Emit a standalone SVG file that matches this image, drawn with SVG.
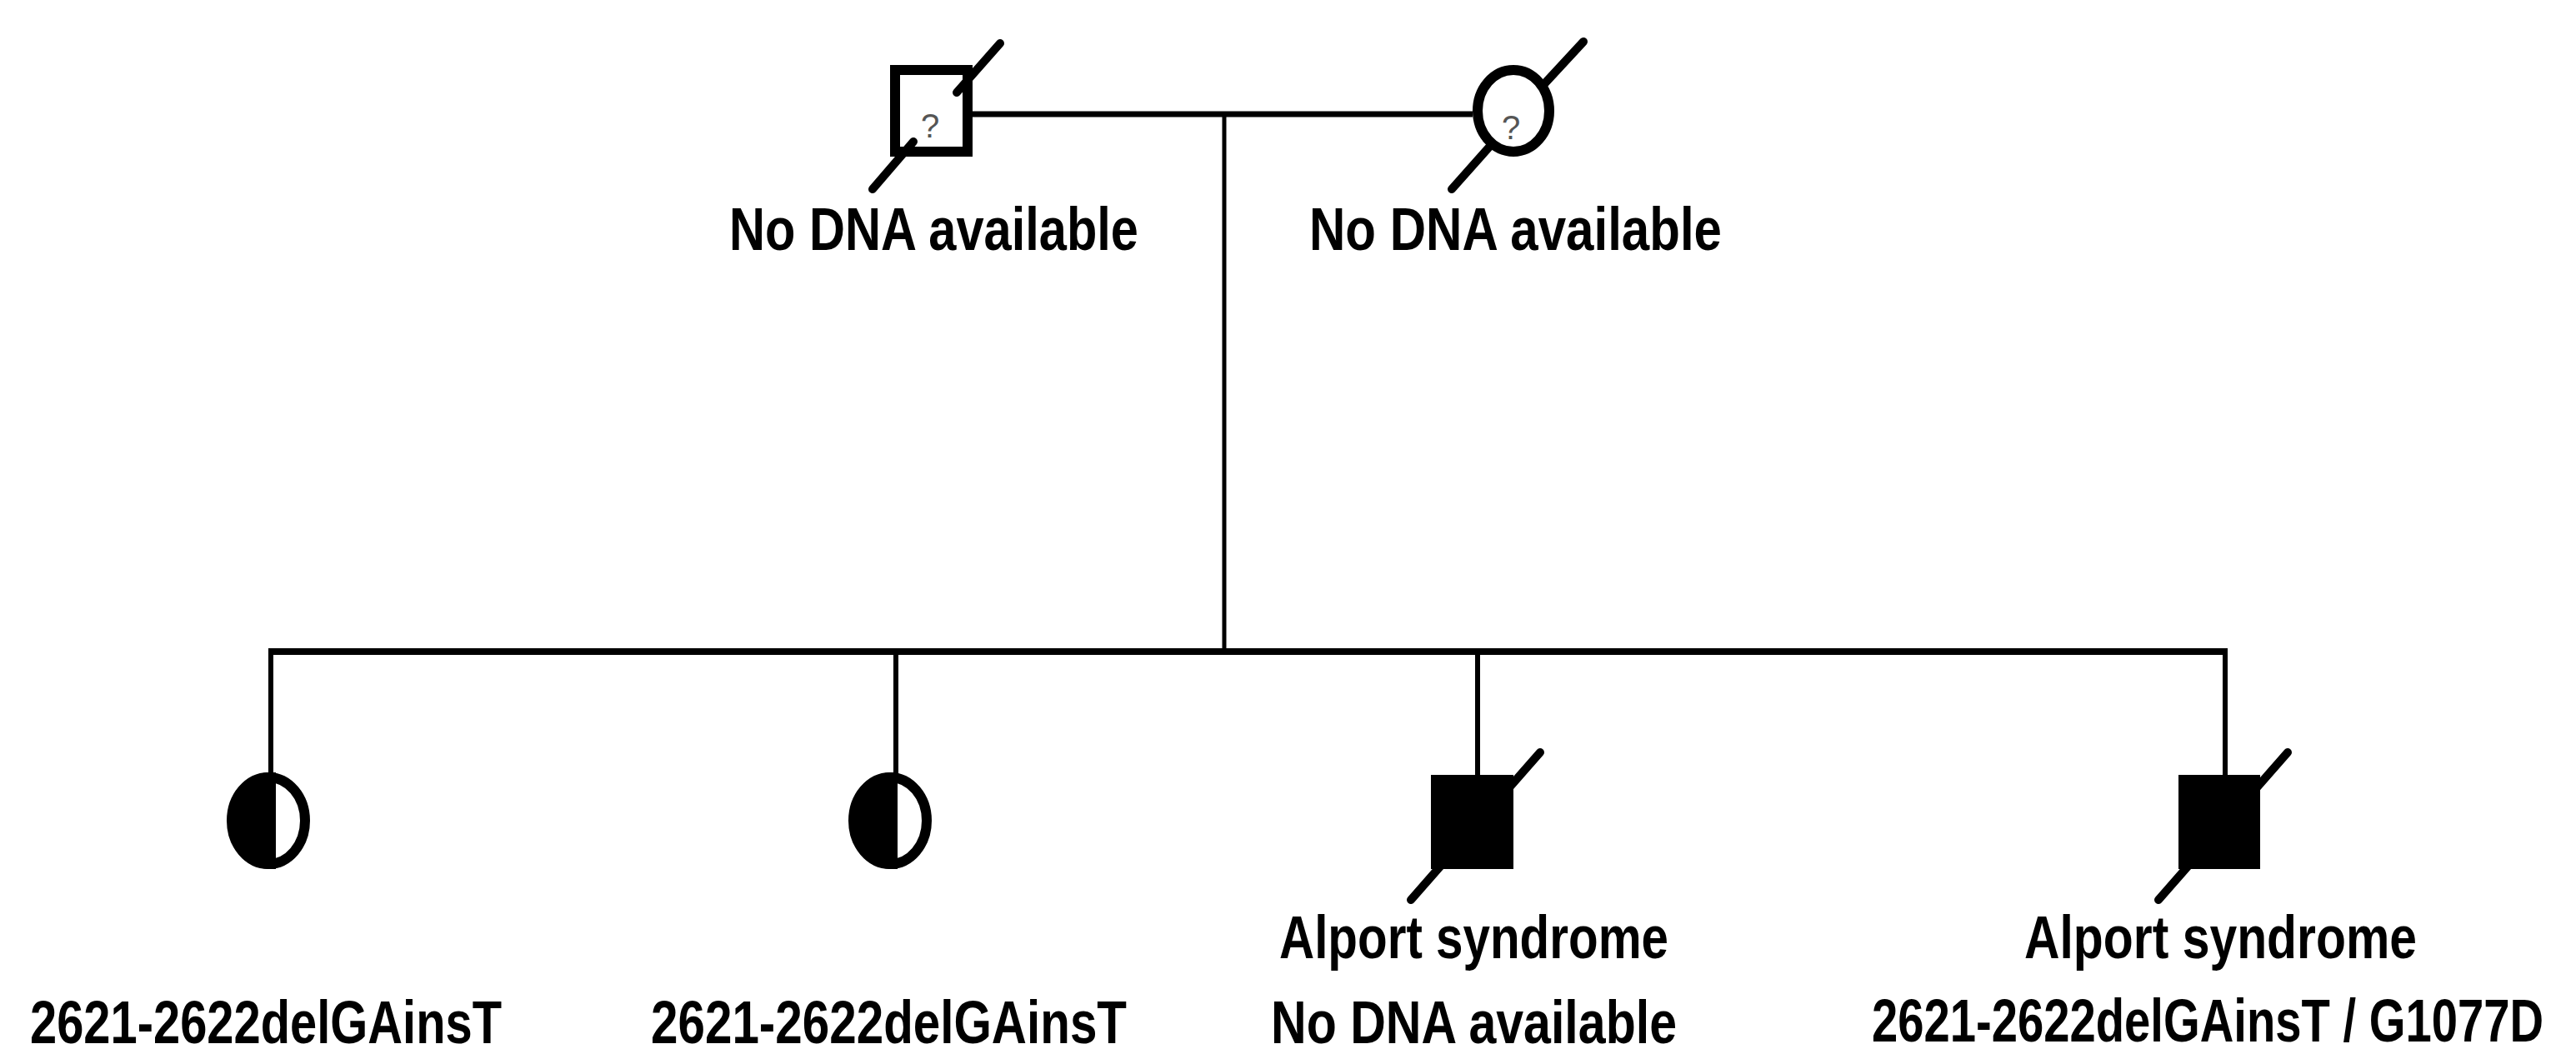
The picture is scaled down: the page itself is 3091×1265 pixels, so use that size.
<svg xmlns="http://www.w3.org/2000/svg" width="3091" height="1265" viewBox="0 0 3091 1265">
<defs>
<style>
.lbl{font-family:"Liberation Sans",Arial,sans-serif;font-weight:bold;font-size:72px;fill:#000}
.q{font-family:"Liberation Sans",Arial,sans-serif;font-size:40px;fill:#555}
.ln{stroke:#000;fill:none}
.sym{stroke:#000;stroke-width:12;fill:#fff}
.slash{stroke:#000;stroke-width:10;stroke-linecap:round;fill:none}
</style>
</defs>
<rect width="3091" height="1265" fill="#fff"/>
<g id="connectors">
<line class="ln" x1="1167" y1="137" x2="1767" y2="137" stroke-width="7"/>
<line class="ln" x1="1469" y1="137" x2="1469" y2="782" stroke-width="5"/>
<line class="ln" x1="322" y1="782" x2="2673" y2="782" stroke-width="8"/>
<line class="ln" x1="325" y1="782" x2="325" y2="930" stroke-width="6"/>
<line class="ln" x1="1075" y1="782" x2="1075" y2="930" stroke-width="6"/>
<line class="ln" x1="1773" y1="782" x2="1773" y2="932" stroke-width="6"/>
<line class="ln" x1="2670" y1="782" x2="2670" y2="932" stroke-width="6"/>
</g>
<g id="father">
<rect class="sym" x="1074" y="84" width="87" height="98"/>
<text class="q" x="1105" y="165">?</text>
<line class="slash" x1="1047" y1="227" x2="1096" y2="170"/>
<line class="slash" x1="1148" y1="111" x2="1200" y2="52"/>
<text class="lbl" x="875" y="300" textLength="491" lengthAdjust="spacingAndGlyphs">No DNA available</text>
</g>
<g id="mother">
<ellipse class="sym" cx="1816" cy="133" rx="43" ry="49"/>
<text class="q" x="1802" y="167">?</text>
<line class="slash" x1="1742" y1="227" x2="1790" y2="173"/>
<line class="slash" x1="1850" y1="104" x2="1900" y2="50"/>
<text class="lbl" x="1571" y="300" textLength="495" lengthAdjust="spacingAndGlyphs">No DNA available</text>
</g>
<g id="child1">
<ellipse class="sym" cx="322" cy="985" rx="44" ry="52"/>
<path d="M325 933 A44 52 0 0 0 325 1037 Z" fill="#000" stroke="#000" stroke-width="12"/>
<text class="lbl" x="36" y="1252" textLength="566" lengthAdjust="spacingAndGlyphs">2621-2622delGAinsT</text>
</g>
<g id="child2">
<ellipse class="sym" cx="1068" cy="985" rx="44" ry="52"/>
<path d="M1071 933 A44 52 0 0 0 1071 1037 Z" fill="#000" stroke="#000" stroke-width="12"/>
<text class="lbl" x="781" y="1252" textLength="571" lengthAdjust="spacingAndGlyphs">2621-2622delGAinsT</text>
</g>
<g id="child3">
<rect x="1717" y="930" width="99" height="113" fill="#000"/>
<line class="slash" x1="1693" y1="1080" x2="1848" y2="903"/>
<text class="lbl" x="1535" y="1150" textLength="467" lengthAdjust="spacingAndGlyphs">Alport syndrome</text>
<text class="lbl" x="1525" y="1252" textLength="487" lengthAdjust="spacingAndGlyphs">No DNA available</text>
</g>
<g id="child4">
<rect x="2614" y="930" width="98" height="113" fill="#000"/>
<line class="slash" x1="2590" y1="1080" x2="2745" y2="903"/>
<text class="lbl" x="2429" y="1150" textLength="471" lengthAdjust="spacingAndGlyphs">Alport syndrome</text>
<text class="lbl" style="font-size:56px" transform="translate(2246,1250) scale(1,1.28)" x="0" y="0" textLength="806" lengthAdjust="spacingAndGlyphs">2621-2622delGAinsT / G1077D</text>
</g>
</svg>
